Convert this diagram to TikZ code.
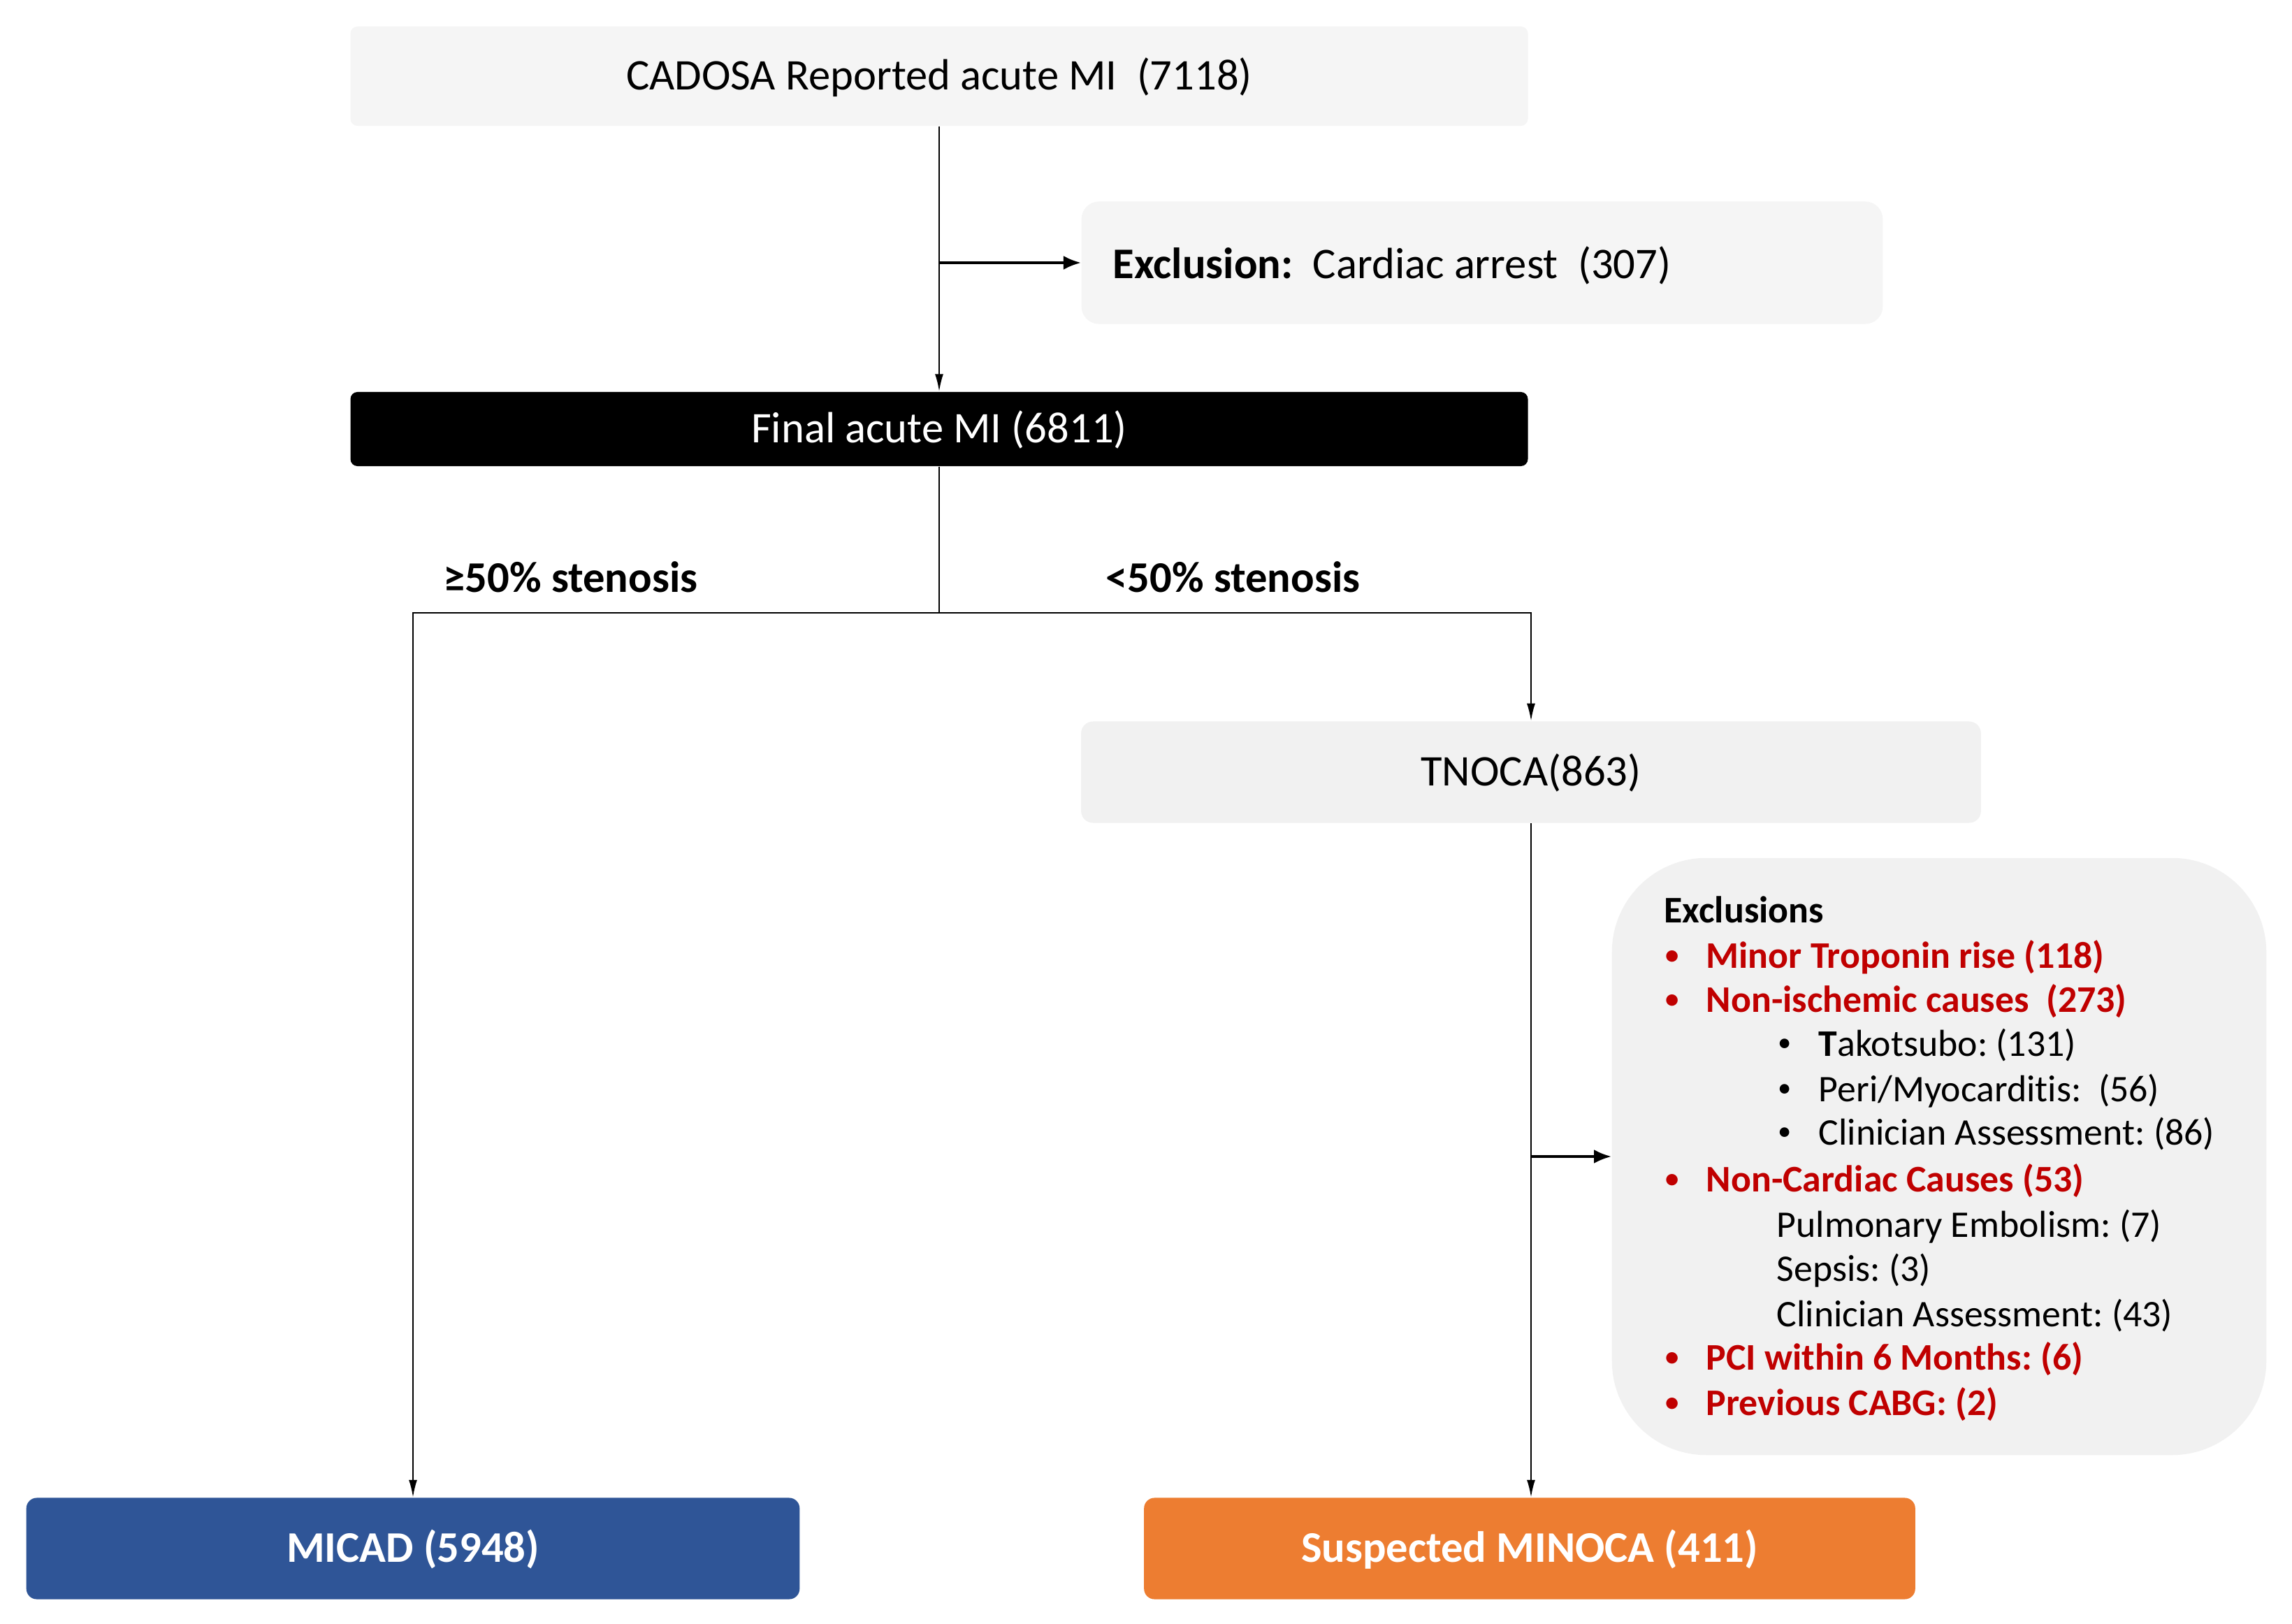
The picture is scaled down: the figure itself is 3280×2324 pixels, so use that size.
\documentclass[tikz,border=0pt]{standalone}
\usepackage{fontspec}
\setmainfont{Carlito}[Ligatures=NoCommon]
\usetikzlibrary{arrows.meta}
\definecolor{lightbox}{HTML}{F5F5F5}
\definecolor{greybox}{HTML}{F1F1F1}
\definecolor{redtxt}{HTML}{C00000}
\definecolor{micadblue}{HTML}{2F5597}
\definecolor{minocaorange}{HTML}{ED7D31}
\newcommand{\bigfont}{\fontsize{17.8pt}{21pt}\selectfont}
\newcommand{\listfont}{\fontsize{15.3pt}{18pt}\selectfont}
\newcommand{\bulletmark}{{\fontsize{11pt}{12pt}\selectfont\textbullet}}
\begin{document}
\frenchspacing
\begin{tikzpicture}[x=0.01cm,y=-0.01cm,
  font=\bigfont,
  box/.style={rectangle, inner sep=0pt, minimum width=#1, text height=15pt, text depth=4pt},
  conn/.style={draw=black, line width=0.6pt, -{Latex[length=0.25cm,width=0.12cm]}},
  sideconn/.style={draw=black, line width=1pt, -{Latex[length=0.25cm,width=0.2cm]}},
  plainline/.style={draw=black, line width=0.6pt},
  item/.style={anchor=west, inner sep=0pt, font=\listfont},
  reditem/.style={anchor=west, inner sep=0pt, text=redtxt, font=\listfont\bfseries},
]
\useasboundingbox[fill=white] (0,0) rectangle (3280,2324);

% boxes
\node[box=16.84cm, minimum height=1.42cm, fill=lightbox, rounded corners=0.1cm] (top) at (1344,109) {CADOSA Reported acute MI\ \ (7118)};
\node[box=11.46cm, minimum height=1.75cm, fill=lightbox, rounded corners=0.25cm] (excl) at (2121,376) {};
\node[anchor=west, inner sep=0pt] (excltxt) at (1592,380) {\textbf{Exclusion:}\ \ Cardiac arrest\ \ (307)};
\node[box=16.84cm, minimum height=1.06cm, fill=black, text=white, rounded corners=0.1cm] (final) at (1344,614) {Final acute MI (6811)};
\node[box=12.87cm, minimum height=1.45cm, fill=greybox, rounded corners=0.17cm] (tnoca) at (2191,1105) {TNOCA(863)};
\node[box=9.36cm, minimum height=8.54cm, fill=greybox, rounded corners=1.35cm] (excl2) at (2775,1655) {};
\node[box=11.06cm, minimum height=1.45cm, fill=micadblue, text=white, rounded corners=0.15cm, font=\bigfont\bfseries] (micad) at (591,2216) {MICAD (5948)};
\node[box=11.03cm, minimum height=1.45cm, fill=minocaorange, text=white, rounded corners=0.15cm, font=\bigfont\bfseries] (minoca) at (2189,2216) {Suspected MINOCA (411)};

% labels
\node[anchor=west, inner sep=0pt, font=\bigfont\bfseries] (lblge) at (634,826) {≥50\% stenosis};
\node[anchor=west, inner sep=0pt, font=\bigfont\bfseries] (lbllt) at (1582,826) {<50\% stenosis};

% exclusions list
\node[item, font=\listfont\bfseries] (exh) at (2381,1302) {Exclusions};
\node[reditem] (b1) at (2383,1370) {\bulletmark};
\node[reditem] (e1) at (2441,1370) {Minor Troponin rise (118)};
\node[reditem] (b2) at (2383,1433) {\bulletmark};
\node[reditem] (e2) at (2441,1433) {Non-ischemic causes\ \ (273)};
\node[item] (b21) at (2544,1496) {\bulletmark};
\node[item] (e21) at (2602,1496) {\textbf{T}akotsubo: (131)};
\node[item] (b22) at (2544,1561) {\bulletmark};
\node[item] (e22) at (2602,1561) {Peri/Myocarditis:\ \ (56)};
\node[item] (b23) at (2544,1623) {\bulletmark};
\node[item] (e23) at (2602,1623) {Clinician Assessment: (86)};
\node[reditem] (b3) at (2383,1690) {\bulletmark};
\node[reditem] (e3) at (2441,1690) {Non-Cardiac Causes (53)};
\node[item] (e31) at (2542,1755) {Pulmonary Embolism: (7)};
\node[item] (e32) at (2542,1818) {Sepsis: (3)};
\node[item] (e33) at (2542,1883) {Clinician Assessment: (43)};
\node[reditem] (b4) at (2383,1945) {\bulletmark};
\node[reditem] (e4) at (2441,1945) {PCI within 6 Months: (6)};
\node[reditem] (b5) at (2383,2010) {\bulletmark};
\node[reditem] (e5) at (2441,2010) {Previous CABG: (2)};

% connectors
\draw[conn] (top.south) -- (final.north);
\draw[sideconn] (top.south |- excl.west) -- (excl.west);
\coordinate (split) at (1344,877);
\draw[plainline] (final.south) -- (split);
\draw[conn] (split) -- (micad.north |- split) -- (micad.north);
\draw[conn] (split) -- (tnoca.north |- split) -- (tnoca.north);
\draw[conn] (tnoca.south) -- (tnoca.south |- minoca.north);
\draw[sideconn] (tnoca.south |- excl2.west) -- (excl2.west);
\end{tikzpicture}
\end{document}
